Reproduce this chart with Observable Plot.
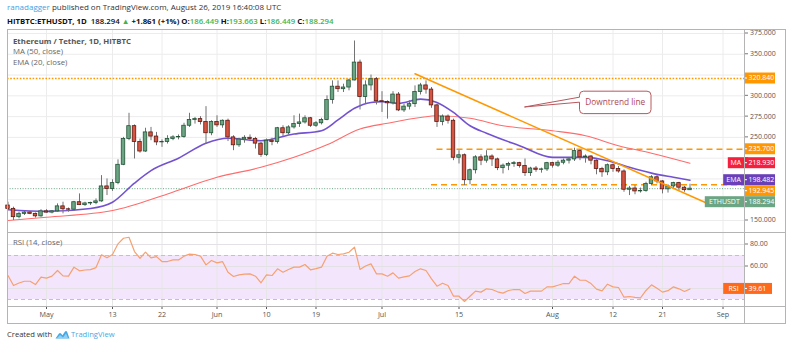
<!DOCTYPE html>
<html><head><meta charset="utf-8">
<script src="https://cdn.jsdelivr.net/npm/d3@7"></script>
<script src="https://cdn.jsdelivr.net/npm/@observablehq/plot@0.6"></script>
<style>
body{margin:0;background:#fff;font-family:'Open Sans','Noto Sans',sans-serif;}
#root{position:relative;width:800px;height:353px;overflow:hidden;background:#fff}
.abs{position:absolute;white-space:nowrap}
.h1{left:7px;top:2px;font-size:8px;line-height:10px;color:#333}
.h2{left:7px;top:15.5px;font-size:7.8px;line-height:10px;color:#111;font-weight:700}
.g{color:#3fb54a;font-weight:600}
.leg{left:13px;font-size:7.8px;line-height:10.6px;color:#666}
.frame{position:absolute;border:1px solid #b4b4b4;left:7px;top:29px;width:777px;height:293px;pointer-events:none}
.hl{position:absolute;height:1px;background:#b4b4b4;left:7px;width:778px}
.vl{position:absolute;width:1px;background:#b4b4b4;left:744px;top:29px;height:294px}
svg.plot{position:absolute;left:7px}
.foot{left:7px;top:329px;font-size:7.6px;color:#333;line-height:10px;display:flex;align-items:center}
</style></head><body><div id="root"></div>
<script>
// ---------- data ----------
const startDay = "2019-04-24";
const open  = [168,164,154,158,159.5,158,155,161,159.5,161,167,163.5,163,172,168.5,170.5,171,173,191,188,195,217,248,263.5,244.5,233,256,251,244,244.5,248,250,250.5,264,271,272,268.5,255,268.5,264.5,270,250,240.5,247.5,249.5,248,242.5,229,246,244.5,261,255,262,266,268,273,264,267,271,295,311,308,310,318.5,340,298.5,312.5,320,293.5,292.5,291,301.5,282.5,287,290,304.5,312.5,307.5,288.5,268.5,275,270,225.5,228.5,198.5,210.5,226,222,227,223.5,213,216,218,219,215.5,207,212.5,211,211.5,219,216,219.5,222,223.5,233.5,226,227,222,212,208,216.5,212,209,187,188.5,185,185.5,194,202,197,187.5,191,195,189.5,186.449];
const high  = [172,166,160,161,161,159,163,163,162,170,172,165,173,182,172,172,176,204,200,199,223,250,279,265,248,261,262,256,247,252,252,253,267,279,274,275,287,270,276,271,272,252,249,252,253,250,244,248,249,262,264,264,276,278,276,274,269,273,300,318,318,314,320,366,343,318,325,322,305,294,305,304,290,294,312,315,318,310,290,277,277,272,234,230,212,228,229,234,229,225,218,220,221,220,224,214,215,213,220,220,222,224,225,237,235,229,228,223,214,218,218,215,211,191,192,189,196,204,204,198,193,196,196,191,193.663];
const low   = [163,150,152,156,157,153,154,159,158,160,158,160,161,168,167,168,169,172,180,185,193,216,246,224,231,232,246,240,238,242,246,247,249,262,266,265,242,252,262,261,245,234,238,243,245,236,226,227,240,242,251,253,260,262,266,262,262,265,270,290,304,304,306,318,283,290,306,289,280,272,289,281,280,283,286,301,302,285,262,264,266,222,218,192,193,206,216,219,215,210,206,210,214,213,203,203,208,207,209,213,214,217,218,221,222,219,217,205,202,204,208,207,184,180,181,183,184,192,194,182,183,188,186,184,186.449];
const close = [164,154,158,159.5,158,155,161,159.5,161,167,163.5,163,172,168.5,170.5,171,173,191,188,195,217,248,263.5,244.5,233,256,251,244,244.5,248,250,250.5,264,271,272,268.5,255,268.5,264.5,270,250,240.5,247.5,249.5,248,242.5,229,246,244.5,261,255,262,266,268,273,264,267,271,295,311,308,310,318.5,340,298.5,312.5,320,293.5,292.5,291,301.5,282.5,287,290,304.5,312.5,307.5,288.5,268.5,275,270,225.5,228.5,198.5,210.5,226,222,227,223.5,213,216,218,219,215.5,207,212.5,211,211.5,219,216,219.5,222,223.5,233.5,226,227,222,212,208,216.5,212,209,187,188.5,185,185.5,194,202,197,187.5,191,195,189.5,186.5,188.294];
const rsiValues = [51.8,42.7,45,46.6,46.6,43.6,50.3,49.4,51.2,56.4,
 51.5,51.2,59.4,56.1,56.8,57.2,59,70.6,67.9,70.9,
 80.6,85.7,86.6,73.6,67.5,73,67.8,69,64.5,64.5,
 66,66,69.4,71.2,70.9,69.4,61.5,65.5,63.3,64.5,
 54.8,50.9,52.4,53,53.3,51.2,45.2,52.4,51.8,57.9,
 54.8,57.3,59.4,59.4,61.8,57,58,59.4,69.4,72.1,
 70.9,71.5,73,77.6,57.3,60.5,62.4,53.3,53.3,51.2,
 54.2,49.4,50.5,51.5,55.4,57.9,56.4,48.8,42.1,44.8,
 42.7,33,33,28.2,33,37.6,36.7,39.7,39.1,37,
 35.8,38.2,39.1,39,35.5,37.6,37.6,37.6,41.5,41.5,
 43,44.5,44.5,51.2,47.5,47.5,44.5,39.4,37.9,43.9,
 41.5,40.9,32.1,32.7,32,31.5,38.2,43.3,40.3,36.7,
 38,41.5,39.7,37.3,39.61];
const emaDates  = ["2019-04-24","2019-05-01","2019-05-09","2019-05-13","2019-05-17","2019-05-20","2019-05-25","2019-05-30","2019-06-03","2019-06-09","2019-06-15","2019-06-20","2019-06-23","2019-06-26","2019-06-29","2019-07-01","2019-07-04","2019-07-08","2019-07-11","2019-07-14","2019-07-17","2019-07-20","2019-07-26","2019-08-01","2019-08-07","2019-08-11","2019-08-15","2019-08-19","2019-08-23","2019-08-26"];
const emaValues = [163,161,164.5,172,195,210,225,243,249,246,254,258,271,285,292,293,291,296,292,280,264,255,240,226,226,222,214,207,202,198.482];
const maDates   = ["2019-04-24","2019-05-01","2019-05-13","2019-05-23","2019-06-01","2019-06-09","2019-06-15","2019-06-21","2019-06-27","2019-07-02","2019-07-08","2019-07-11","2019-07-17","2019-07-23","2019-08-01","2019-08-07","2019-08-13","2019-08-19","2019-08-26"];
const maValues  = [150,154,162,182,202,214,226,241,260,267,274,276,273,264,258,252,240,231,218.93];
const tickDates  = ["2019-05-01","2019-05-13","2019-05-22","2019-06-01","2019-06-10","2019-06-19","2019-07-01","2019-07-15","2019-08-01","2019-08-12","2019-08-21","2019-09-01"];
const tickLabels = ["May","13","22","Jun","10","19","Jul","15","Aug","12","21","Sep"];
const priceTicks = [150,175,200,225,250,275,300,325,350,375];
const rsiTicks = [40,60,80];
const rsiBand = [30,70];
const resistanceTop = 320.84;
const levelValues = [235.7,192.945];
const levelFrom   = ["2019-07-11","2019-07-10"];
const trendDates  = ["2019-07-07","2019-08-29"];
const trendPrices = [326.5,171];
const lastClose = 188.294;
const calloutText = "Downtrend line";
const calloutTip  = ["2019-07-27",286];
const calloutBox  = ["2019-08-06","2019-08-19",305,278];
const priceTagNames  = [null,null,"MA","EMA",null,"ETHUSDT"];
const priceTagValues = [320.84,235.7,218.93,198.482,192.945,188.294];
const priceTagColors = ["#ff9800","#ff9800","#f5213b","#6a3fb8","#ff9800","#6ba583"];
const rsiTagValue = 39.61;

// ---------- helpers ----------
const FONT = "'Open Sans','Noto Sans',sans-serif";
const P = s => new Date(s + "T00:00:00Z");
const t0 = P(startDay);
const HALF = 12*3600*1000;
const candles = close.map((c,i)=>{const d=d3.utcDay.offset(t0,i);return {date:d,x1:new Date(+d-HALF),x2:new Date(+d+HALF),open:open[i],high:high[i],low:low[i],close:c};});
const rsiRows = rsiValues.map((v,i)=>({date:d3.utcDay.offset(t0,i),rsi:v}));
const ema = emaDates.map((d,i)=>({date:P(d),v:emaValues[i]}));
const ma = maDates.map((d,i)=>({date:P(d),v:maValues[i]}));
const ticks = tickDates.map(P);
const tickMap = new Map(ticks.map((d,i)=>[+d,tickLabels[i]]));
const levels = levelValues.map((v,i)=>({y:v,x1:P(levelFrom[i]),x2:P("2019-10-15")}));
const trend = trendDates.map((d,i)=>({date:P(d),v:trendPrices[i]}));
const xSpec = {type:"utc", domain:[P(startDay),P("2019-09-01")], range:[0.5,715.5]};

// right price scale: tick marks, tick labels (hidden under tags like TradingView), and tags
function rightScale(tickVals, fmt, list, valueW){
  return (index, scales, values, dims) => {
    const g = d3.create("svg:g").attr("font-family",FONT).attr("font-size",7).attr("text-anchor","start");
    const ax = dims.width - dims.marginRight;
    const rows = list.map(t=>({...t,py:scales.y(t.value)})).sort((a,b)=>a.py-b.py);
    for (let k=1;k<rows.length;k++) if (rows[k].py-rows[k-1].py<11) rows[k].py=rows[k-1].py+11;
    for (const v of tickVals){
      const y = scales.y(v);
      g.append("line").attr("x1",ax).attr("x2",ax+4).attr("y1",y).attr("y2",y).attr("stroke","#777");
      if (rows.some(r=>Math.abs(r.py-y)<9.5)) continue;
      g.append("text").attr("x",ax+6).attr("y",y).attr("dy","0.35em").attr("fill","#555").text(fmt(v));
    }
    for (const r of rows){
      const nw = r.name ? r.name.length*4.6+7 : 0;
      g.append("rect").attr("x",ax-nw).attr("y",r.py-5.5).attr("width",nw+1+valueW).attr("height",11).attr("fill",r.color);
      if (r.name) g.append("text").attr("x",ax-nw/2).attr("y",r.py).attr("dy","0.35em").attr("text-anchor","middle").attr("fill","#fff").text(r.name);
      g.append("line").attr("x1",ax).attr("x2",ax+3).attr("y1",r.py).attr("y2",r.py).attr("stroke","#fff");
      g.append("text").attr("x",ax+4.5).attr("y",r.py).attr("dy","0.35em").attr("text-anchor","start").attr("fill","#fff").text(r.text);
    }
    return g.node();
  };
}
function callout(index, scales){
  const g = d3.create("svg:g");
  const x0=scales.x(P(calloutBox[0])), x1=scales.x(P(calloutBox[1]));
  const y0=scales.y(calloutBox[2]), y1=scales.y(calloutBox[3]);
  const tx=scales.x(P(calloutTip[0])), ty=scales.y(calloutTip[1]);
  const r=4, ta=y0+6, tb=y0+11;
  const d=`M${x0+r},${y0}H${x1-r}Q${x1},${y0} ${x1},${y0+r}V${y1-r}Q${x1},${y1} ${x1-r},${y1}H${x0+r}Q${x0},${y1} ${x0},${y1-r}V${tb}L${tx},${ty}L${x0},${ta}V${y0+r}Q${x0},${y0} ${x0+r},${y0}Z`;
  g.append("path").attr("d",d).attr("fill","#fff").attr("stroke","#b8585d").attr("stroke-width",1);
  g.append("text").attr("x",(x0+x1)/2).attr("y",(y0+y1)/2).attr("dy","0.35em").attr("text-anchor","middle")
    .attr("font-family",FONT).attr("font-size",8.3).attr("fill","#b0474f").text(calloutText);
  return g.node();
}

const priceTagList = priceTagValues.map((v,i)=>({value:v,name:priceTagNames[i],color:priceTagColors[i],text:d3.format(".3f")(v)}));

const pricePlot = Plot.plot({
  width:778, height:202, marginLeft:0, marginRight:41, marginTop:0, marginBottom:0,
  style:{fontFamily:FONT, background:"transparent", overflow:"visible"},
  x:{...xSpec, axis:null},
  y:{domain:[150,375], range:[190,3], axis:null},
  marks:[
    Plot.gridX({ticks:ticks, stroke:"#ececec", strokeOpacity:1}),
    Plot.gridY({ticks:priceTicks, stroke:"#ececec", strokeOpacity:1}),
    Plot.ruleY([lastClose], {stroke:"#6ba583", strokeDasharray:"1,1.6", strokeWidth:1}),
    Plot.ruleY([resistanceTop], {stroke:"#ff9800", strokeDasharray:"1.6,1.6", strokeWidth:1.6}),
    Plot.ruleY(levels, {y:"y", x1:"x1", x2:"x2", stroke:"#ff9800", strokeDasharray:"6,4", strokeWidth:1.6, clip:true}),
    Plot.line(ma, {x:"date", y:"v", stroke:"#ff6b6b", strokeWidth:1.1, curve:"monotone-x", clip:true}),
    Plot.line(ema, {x:"date", y:"v", stroke:"#7352d1", strokeWidth:1.6, curve:"monotone-x", clip:true}),
    Plot.ruleX(candles, {x:"date", y1:"low", y2:"high", stroke:"#737375", strokeWidth:1}),
    Plot.rect(candles, {x1:"x1", x2:"x2", y1:"open", y2:"close", insetLeft:1, insetRight:1,
      fill:d=>d.close>=d.open?"#6ba583":"#d75442", stroke:d=>d.close>=d.open?"#225437":"#5b1a13", strokeWidth:0.8}),
    Plot.line(trend, {x:"date", y:"v", stroke:"#ff9800", strokeWidth:1.5, clip:true}),
    callout,
    rightScale(priceTicks, d3.format(".3f"), priceTagList, 30)
  ]
});

const rsiPlot = Plot.plot({
  width:778, height:91, marginLeft:0, marginRight:41, marginTop:0, marginBottom:17,
  style:{fontFamily:FONT, background:"transparent", overflow:"visible"},
  x:xSpec,
  y:{domain:[30,80], range:[67,12], axis:null},
  marks:[
    Plot.rect([{a:P("2019-04-01"),b:P("2019-10-15"),lo:rsiBand[0],hi:rsiBand[1]}], {x1:"a", x2:"b", y1:"lo", y2:"hi", fill:"#f3e6fc", clip:true}),
    Plot.gridX({ticks:ticks, stroke:"#e6e6e6", strokeOpacity:1}),
    Plot.gridY({ticks:rsiTicks, stroke:"#e3e0e6", strokeOpacity:1}),
    Plot.ruleY(rsiBand, {stroke:"#c6bdd0", strokeDasharray:"4,3", strokeWidth:1}),
    Plot.line(rsiRows, {x:"date", y:"rsi", stroke:"#f7a070", strokeWidth:1.2, clip:true}),
    Plot.axisX({ticks:ticks, tickFormat:d=>tickMap.get(+d), tickSize:3, tickPadding:2, fontSize:7.2, color:"#555"}),
    rightScale(rsiTicks, d3.format(".2f"), [{value:rsiTagValue,name:"RSI",color:"#ff6a1a",text:d3.format(".2f")(rsiTagValue)}], 27)
  ]
});

// ---------- layout ----------
const root = document.getElementById("root");
root.innerHTML = `
<div class="abs h1"><span style="color:#3ea2e6">ranadagger</span> published on TradingView.com, August 26, 2019 16:40:08 UTC</div>
<div class="abs h2">HITBTC:ETHUSDT, 1D&nbsp; <span style="font-weight:600">188.294</span> <span class="g">▲</span> +1.861 (+1%) O:<span class="g">186.449</span> H:<span class="g">193.663</span> L:<span class="g">186.449</span> C:<span class="g">188.294</span></div>`;
pricePlot.classList.add("plot"); pricePlot.style.top="30px";
rsiPlot.classList.add("plot"); rsiPlot.style.top="232px";
root.appendChild(pricePlot);
root.appendChild(rsiPlot);
root.insertAdjacentHTML("beforeend", `
<div class="frame"></div>
<div class="hl" style="top:232px"></div>
<div class="hl" style="top:306px"></div>
<div class="vl"></div>
<div class="abs leg" style="top:35.5px"><span style="font-weight:700;color:#555">Ethereum / Tether, 1D, HITBTC</span><br>MA (50, close)<br>EMA (20, close)</div>
<div class="abs leg" style="top:237px">RSI (14, close)</div>
<div class="abs foot">Created with&nbsp;<svg width="15" height="9" viewBox="0 0 15 9" style="margin:0 1px"><path d="M0.5 8.5 L4 3.5 Q5 2.3 6 3.5 L7.5 5.3 L10 1.5 Q11 0.3 12 1.5 L14.5 8.5 Z" fill="#47a9e3"/><path d="M2 8 L5 5 L8 7.5 L11 3.5 L13 8 Z" fill="#8fd0f5"/></svg><span style="color:#47a9e3">TradingView</span></div>`);
</script></body></html>
